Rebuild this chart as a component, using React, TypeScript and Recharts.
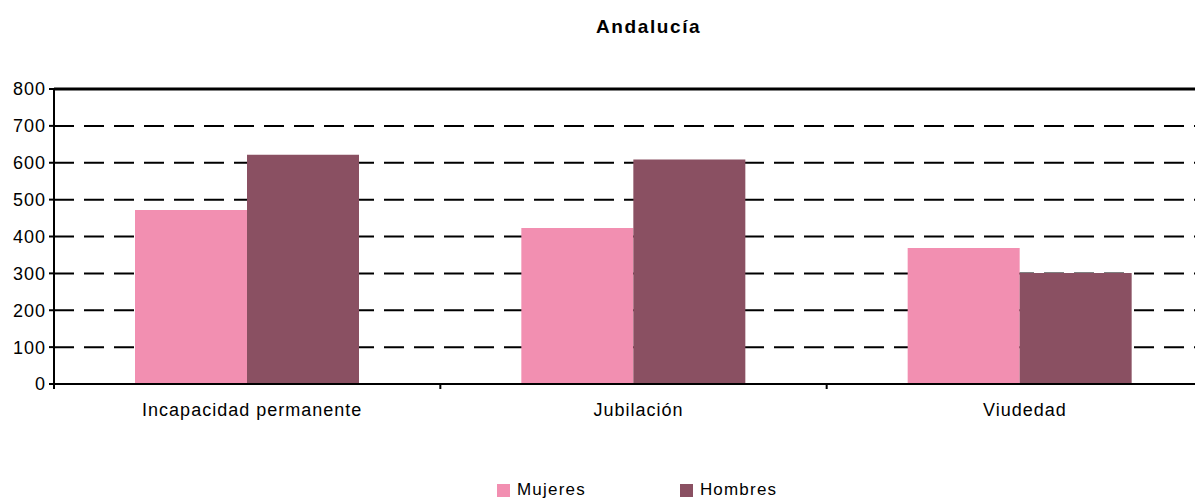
import { BarChart, Bar, XAxis, YAxis, CartesianGrid, ReferenceLine, Legend } from 'recharts'

const categories = ['Incapacidad permanente', 'Jubilación', 'Viudedad']
const series = ['Mujeres', 'Hombres']
const mujeres = [472, 423, 369]
const hombres = [622, 609, 301]
const yTicks = [0, 100, 200, 300, 400, 500, 600, 700, 800]
const edgeTicks = [0, 1, 2, 3]

const data = categories.map((c, i) => ({ name: c, Mujeres: mujeres[i], Hombres: hombres[i] }))

const FONT = 'Liberation Sans, Arial, sans-serif'
const PINK = '#f28fb1'
const MAUVE = '#8a5062'

const LegendContent = ({ payload }: any) => {
  const items = [...(payload || [])].sort((a: any, b: any) => series.indexOf(a.value) - series.indexOf(b.value))
  return (
    <div style={{ display: 'flex', fontFamily: FONT, fontSize: 17, letterSpacing: 1.2, color: '#000' }}>
      {items.map((p: any) => (
        <div key={p.value} style={{ display: 'flex', alignItems: 'center', marginRight: 94 }}>
          <span style={{ width: 13, height: 13, background: p.color, display: 'inline-block', marginRight: 7 }} />
          <span>{p.value}</span>
        </div>
      ))}
    </div>
  )
}

export default function App() {
  return (
    <div style={{ position: 'relative', width: 1195, height: 492, overflow: 'hidden' }}>
      <div
        style={{
          position: 'absolute', top: 8, left: 588, fontFamily: FONT, fontWeight: 'bold',
          fontSize: 19, letterSpacing: 1.6, color: '#000',
        }}
      >
        Andalucía
      </div>
      <BarChart
        width={1215}
        height={492}
        data={data}
        margin={{ top: 81, right: 10, bottom: 85, left: 0 }}
        barSize={112}
        barGap={0}
      >
        <CartesianGrid vertical={false} stroke="#000" strokeWidth={2} strokeDasharray="20 10" />
        {/* numeric axis only for the tick marks between categories */}
        <XAxis
          xAxisId={0}
          type="number"
          dataKey={() => 0}
          domain={[0, 3]}
          ticks={edgeTicks}
          height={1}
          tickSize={5}
          tickLine={{ stroke: '#000', strokeWidth: 2 }}
          axisLine={{ stroke: '#000', strokeWidth: 2 }}
          tickFormatter={() => ''}
        />
        <XAxis
          xAxisId={1}
          dataKey="name"
          height={30}
          axisLine={false}
          tickLine={false}
          tickMargin={12}
          tick={{ fill: '#000', fontSize: 18, fontFamily: FONT, letterSpacing: 1, dx: 5 }}
        />
        <YAxis
          domain={[0, 800]}
          ticks={yTicks}
          width={46}
          tickSize={5}
          tickMargin={3}
          tickLine={{ stroke: '#000', strokeWidth: 2 }}
          axisLine={{ stroke: '#000', strokeWidth: 2 }}
          tick={{ fill: '#000', fontSize: 18, fontFamily: FONT, letterSpacing: 1 }}
        />
        <ReferenceLine y={800} stroke="#000" strokeWidth={3} />
        <Bar xAxisId={1} dataKey="Mujeres" fill={PINK} isAnimationActive={false} />
        <Bar xAxisId={1} dataKey="Hombres" fill={MAUVE} isAnimationActive={false} />
        <Legend
          layout="horizontal"
          verticalAlign="middle"
          content={<LegendContent />}
          wrapperStyle={{ top: 472, left: 489, width: 400 }}
        />
      </BarChart>
    </div>
  )
}
